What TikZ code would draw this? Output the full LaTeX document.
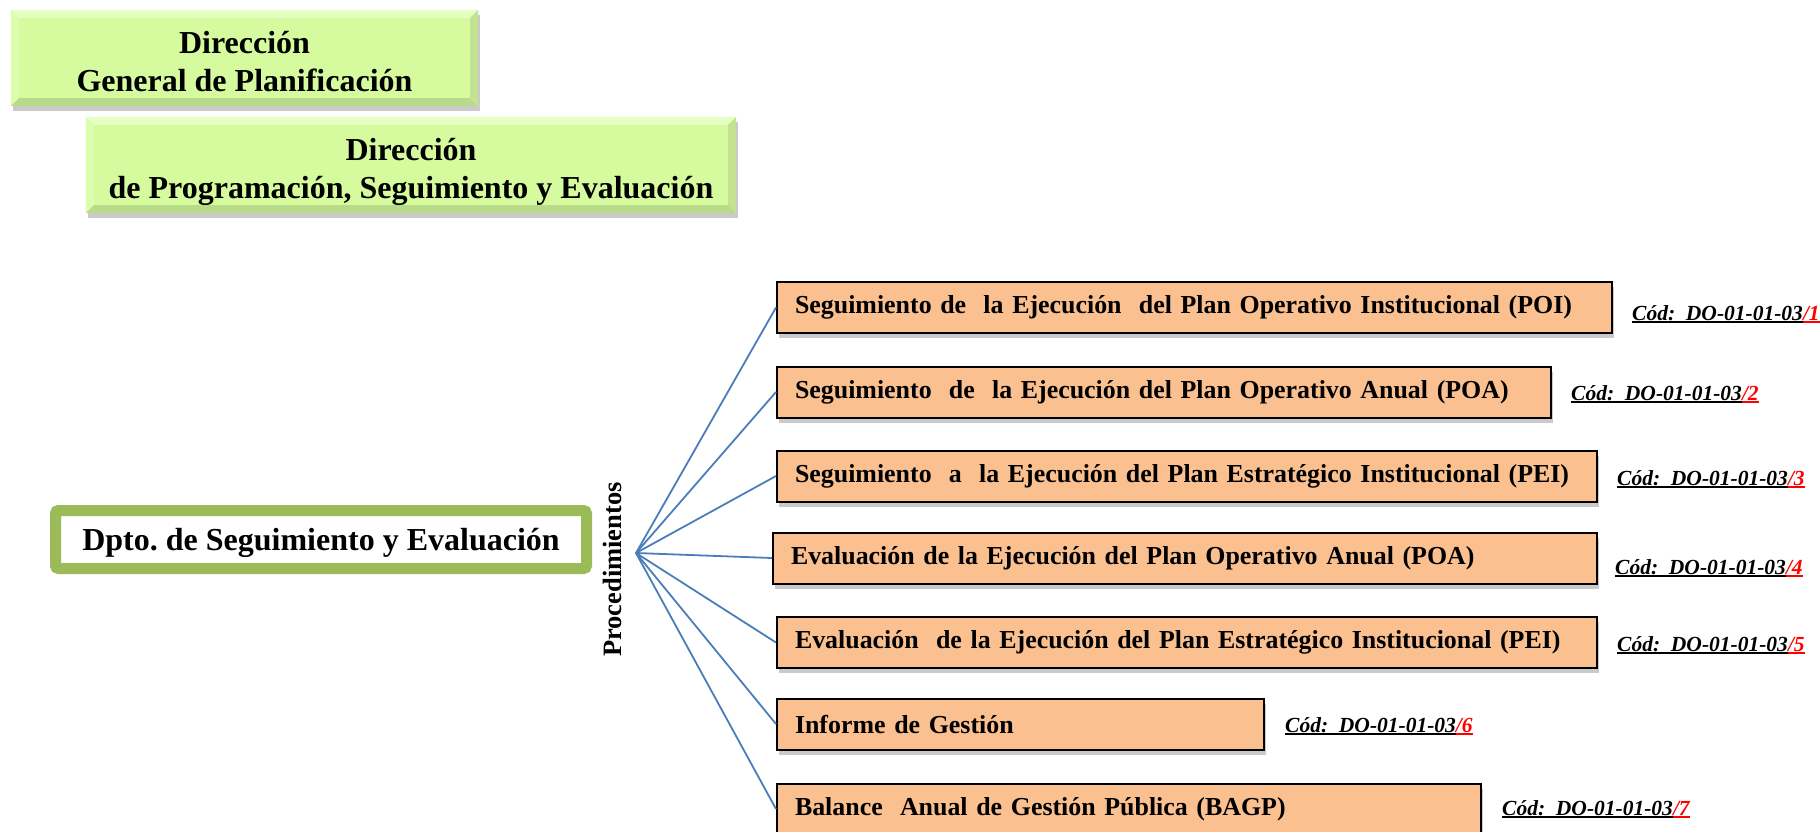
\documentclass[tikz,border=0pt]{standalone}
\usepackage{fontspec}
\setmainfont{Liberation Serif}
\usetikzlibrary{shadows}
\frenchspacing
\definecolor{pfill}{HTML}{FAC090}
\definecolor{gfill}{HTML}{D6FB9F}
\definecolor{gtopc}{HTML}{E6FFC2}
\definecolor{gleftc}{HTML}{DDFDAE}
\definecolor{gbotc}{HTML}{B9DA89}
\definecolor{grightc}{HTML}{C3E393}
\definecolor{dgreen}{HTML}{9BBB59}
\definecolor{fanblue}{HTML}{4A7EBB}
\definecolor{codered}{HTML}{FF0000}
\newcommand{\codeul}[1]{\setbox0\hbox{#1}\rlap{\rule[-3pt]{\wd0}{1.8pt}}\box0}
\newcommand{\codetxt}[1]{\codeul{Cód:~ DO-01-01-03}\textcolor{codered}{\codeul{/#1}}}
\newcommand{\bevel}[1]{%
 \fill[gtopc] (#1.north west) -- (#1.north east) -- ([shift={(-8,8)}]#1.north east) -- ([shift={(8,8)}]#1.north west) -- cycle;
 \fill[gleftc] (#1.north west) -- ([shift={(8,8)}]#1.north west) -- ([shift={(8,-8)}]#1.south west) -- (#1.south west) -- cycle;
 \fill[gbotc] (#1.south west) -- ([shift={(8,-8)}]#1.south west) -- ([shift={(-8,-8)}]#1.south east) -- (#1.south east) -- cycle;
 \fill[grightc] (#1.north east) -- (#1.south east) -- ([shift={(-8,-8)}]#1.south east) -- ([shift={(-8,8)}]#1.north east) -- cycle;}
\begin{document}
\begin{tikzpicture}[x=1pt,y=-1pt,
  gbox/.style={fill=gfill, inner sep=0pt, align=center,
    font=\fontsize{32}{38}\selectfont\bfseries, text depth=0pt,
    drop shadow={shadow xshift=2pt, shadow yshift=-5pt, opacity=0.35, fill=black!60}},
  gtext/.style={inner sep=0pt, align=center, font=\fontsize{32}{38}\selectfont\bfseries, text depth=0pt},
  dptobox/.style={draw=dgreen, line width=11pt, rounded corners=3pt, fill=white, inner sep=0pt,
    minimum width=531pt, minimum height=58pt, font=\fontsize{32}{38}\selectfont\bfseries, text depth=0pt},
  pbox/.style={draw=black, line width=2pt, fill=pfill, inner xsep=18pt, inner ysep=0pt,
    minimum height=51pt, text width=#1, align=left,
    font=\fontsize{25.9}{30}\selectfont\bfseries,
    drop shadow={shadow xshift=2pt, shadow yshift=-5pt, opacity=0.35, fill=black!60}},
  codelbl/.style={anchor=base west, inner sep=0pt, font=\fontsize{21.5}{24}\selectfont\bfseries\itshape},
  fanline/.style={draw=fanblue, line width=1.8pt},
  proclbl/.style={rotate=90, inner sep=0pt, font=\fontsize{26.5}{30}\selectfont\bfseries}]
\useasboundingbox (0,0) rectangle (1820,831);

\node[gbox, minimum width=467pt, minimum height=96pt] (dgp) at (244.5,58) {\vphantom{X}\\\vphantom{X}};
\bevel{dgp}
\node[gtext] (dgpt) at (244.5,61) {Dirección\\General de Planificación};
\node[gbox, minimum width=650pt, minimum height=96pt] (dpse) at (411,165) {\vphantom{X}\\\vphantom{X}};
\bevel{dpse}
\node[gtext] (dpset) at (411,168) {Dirección\\de Programación, Seguimiento y Evaluación};

\node[dptobox] (dpto) at (321,539.5) {Dpto. de Seguimiento y Evaluación};
\node[proclbl] (proc) at (612,569.5) {Procedimientos};
\coordinate (fan) at (636,553);

\node[pbox=799pt] (p1) at (1194.5,307.5) {\mbox{Seguimiento de~ la Ejecución~ del Plan Operativo Institucional (POI)}};
\node[pbox=738pt] (p2) at (1164,392) {\mbox{Seguimiento~ de~ la Ejecución del Plan Operativo Anual (POA)}};
\node[pbox=784pt] (p3) at (1187,476) {\mbox{Seguimiento~ a~ la Ejecución del Plan Estratégico Institucional (PEI)}};
\node[pbox=788pt] (p4) at (1185,558) {\mbox{Evaluación de la Ejecución del Plan Operativo Anual (POA)}};
\node[pbox=784pt] (p5) at (1187,642.5) {\mbox{Evaluación~ de la Ejecución del Plan Estratégico Institucional (PEI)}};
\node[pbox=451pt] (p6) at (1020.5,724) {\mbox{Informe de Gestión}};
\node[pbox=668pt] (p7) at (1129,809) {\mbox{Balance~ Anual de Gestión Pública (BAGP)}};

\node[codelbl] (c1) at (1632,320) {\codetxt{1}};
\node[codelbl] (c2) at (1571,400) {\codetxt{2}};
\node[codelbl] (c3) at (1617,485) {\codetxt{3}};
\node[codelbl] (c4) at (1615,574) {\codetxt{4}};
\node[codelbl] (c5) at (1617,651) {\codetxt{5}};
\node[codelbl] (c6) at (1285,732) {\codetxt{6}};
\node[codelbl] (c7) at (1502,815) {\codetxt{7}};

\foreach \i in {1,...,7} \draw[fanline] (fan) -- (p\i.west);
\end{tikzpicture}
\end{document}
